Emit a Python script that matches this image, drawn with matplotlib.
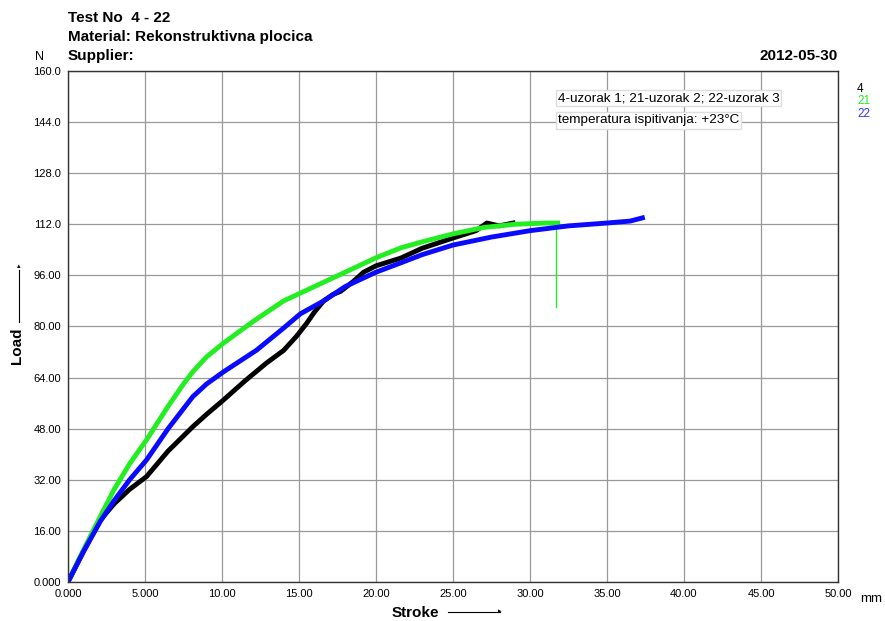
import matplotlib.pyplot as plt

plt.rcParams['font.family'] = ['Liberation Sans', 'DejaVu Sans']

# sample 4 (black)
x4 = [0, 1.0, 2.1, 3.0, 4.0, 5.1, 6.5, 8.1, 9.0, 10.1, 11.5, 12.9, 14.0, 14.85, 15.5, 16.0, 16.6, 17.2, 17.7, 18.5, 19.2, 20.0, 21.6, 23.0, 25.0, 26.5, 27.2, 28.0, 28.9]
y4 = [0, 9.5, 19.4, 24.5, 29.0, 33.0, 41.0, 48.6, 52.5, 57.0, 63.0, 68.6, 72.5, 77.0, 81.0, 84.5, 88.0, 90.0, 91.0, 94.0, 97.0, 99.0, 101.4, 104.5, 107.7, 110.0, 112.4, 111.5, 112.4]

# sample 21 (green)
x21 = [0, 1.0, 2.1, 3.0, 4.0, 5.1, 6.5, 7.5, 8.1, 9.0, 10.1, 12.0, 14.0, 16.0, 18.0, 20.0, 21.6, 23.0, 25.0, 27.0, 29.0, 31.0, 31.8]
y21 = [0, 10.0, 20.5, 29.0, 37.0, 44.5, 55.0, 62.0, 65.8, 70.5, 74.8, 81.5, 88.0, 92.5, 97.0, 101.5, 104.6, 106.5, 109.0, 111.0, 112.0, 112.4, 112.4]
# short drop of green near the end
x21_drop = [31.7, 31.7]
y21_drop = [112.0, 86.0]

# sample 22 (blue)
x22 = [0, 1.0, 2.1, 3.0, 4.0, 5.1, 6.5, 8.1, 9.0, 10.1, 12.25, 14.0, 15.1, 16.6, 18.0, 20.0, 21.6, 23.0, 25.0, 27.5, 30.0, 32.5, 35.0, 36.5, 37.3]
y22 = [0, 9.5, 19.0, 25.5, 32.0, 38.2, 48.0, 58.0, 62.0, 65.8, 72.6, 79.5, 84.0, 88.0, 92.5, 97.0, 99.9, 102.5, 105.5, 108.0, 110.0, 111.5, 112.4, 113.0, 114.0]

xticks = [0, 5, 10, 15, 20, 25, 30, 35, 40, 45, 50]
xtick_labels = ['0.000', '5.000', '10.00', '15.00', '20.00', '25.00', '30.00', '35.00', '40.00', '45.00', '50.00']
yticks = [0, 16, 32, 48, 64, 80, 96, 112, 128, 144, 160]
ytick_labels = ['0.000', '16.00', '32.00', '48.00', '64.00', '80.00', '96.00', '112.0', '128.0', '144.0', '160.0']

fig = plt.figure(figsize=(8.85, 6.21), dpi=100)
ax = fig.add_axes([0.0768, 0.0628, 0.8701, 0.8229])

ax.plot(x4, y4, color='black', lw=3.5)
ax.plot(x21, y21, color='#22ee22', lw=3.5)
ax.plot(x21_drop, y21_drop, color='#22ee22', lw=1)
ax.plot(x22, y22, color='#0a0aff', lw=3.5)

ax.set_xlim(0, 50)
ax.set_ylim(0, 160)
ax.set_xticks(xticks)
ax.set_xticklabels(xtick_labels, fontsize=8)
ax.set_yticks(yticks)
ax.set_yticklabels(ytick_labels, fontsize=8)
ax.tick_params(length=0, pad=5)
ax.grid(True, color='#999999', lw=0.9)
ax.set_axisbelow(True)
for s in ax.spines.values():
    s.set_linewidth(1.0)
    s.set_color('#333333')

fig.text(68/885, 1 - 18/621, 'Test No  4 - 22', fontsize=11, fontweight='bold', va='center')
fig.text(68/885, 1 - 37/621, 'Material: Rekonstruktivna plocica', fontsize=11, fontweight='bold', va='center')
fig.text(68/885, 1 - 56/621, 'Supplier:', fontsize=11, fontweight='bold', va='center')
fig.text(838/885, 1 - 56/621, '2012-05-30', fontsize=11, fontweight='bold', va='center', ha='right')
fig.text(35/885, 1 - 57/621, 'N', fontsize=9, va='center')
fig.text(860/885, 1 - 599/621, 'mm', fontsize=9.5, va='center')

# axis labels with arrows
fig.text(415/885, 1 - 613/621, 'Stroke', fontsize=11, fontweight='bold', va='center', ha='center')
fig.add_artist(plt.Line2D([448/885, 500/885], [1 - 612/621, 1 - 612/621], color='black', lw=0.8))
fig.text(498/885, 1 - 612/621, '\u25b8', fontsize=5, va='center', ha='left')
fig.text(17/885, 1 - 346/621, 'Load', fontsize=11, fontweight='bold', va='center', ha='center', rotation=90)
fig.add_artist(plt.Line2D([19/885, 19/885], [1 - 322/621, 1 - 270/621], color='black', lw=0.8))
fig.text(19/885, 1 - 270/621, '\u25b4', fontsize=5, va='bottom', ha='center')

# legend at right
fig.text(857/885, 1 - 89/621, '4', fontsize=8.5, color='black', va='center')
fig.text(857/885, 1 - 101/621, '21', fontsize=8.5, color='#22ee22', va='center')
fig.text(857/885, 1 - 114/621, '22', fontsize=8.5, color='#3333ff', va='center')

# note box
ax.text(31.8, 151.5, '4-uzorak 1; 21-uzorak 2; 22-uzorak 3', fontsize=9.7, va='center',
        bbox=dict(facecolor='white', edgecolor='#dddddd', pad=1.5))
ax.text(31.8, 144.5, 'temperatura ispitivanja: +23\u00b0C', fontsize=9.7, va='center',
        bbox=dict(facecolor='white', edgecolor='#dddddd', pad=1.5))

fig.savefig('out.png', dpi=100)
